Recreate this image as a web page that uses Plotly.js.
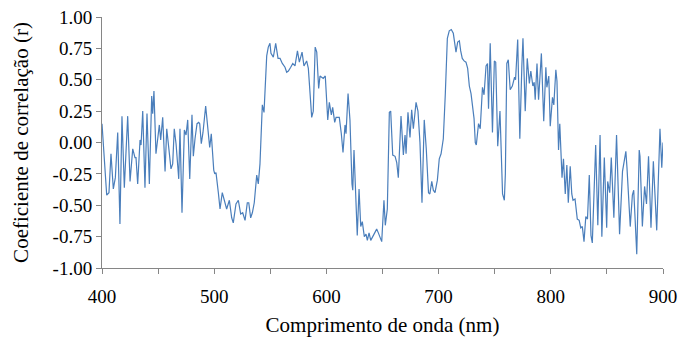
<!DOCTYPE html>
<html>
<head>
<meta charset="utf-8">
<script src="https://cdn.plot.ly/plotly-3.0.1.min.js"></script>
<style>html,body{margin:0;padding:0;background:#fff}#chart{width:683px;height:337px}</style>
</head>
<body>
<div id="chart"></div>
<script>
// Wavelength (nm)
const wavelength = [
400,404.2,406.2,408.0,410.1,411.9,414.0,416.0,417.8,419.9,422.9,425.0,427.4,429.4,430.3,431.8,433.9,434.8,436.3,438.3,
440.1,442.2,444.3,445.2,446.3,448.1,451.1,452.3,454.1,456.2,457.7,459.1,461.5,463.0,464.4,466.0,468.4,469.5,471.3,473.4,
474.9,476.4,478.2,480.2,481.4,482.9,484.7,486.2,487.1,488.5,490.0,492.4,494.5,496.0,497.4,499.6,500.5,501.6,503.7,505.2,
507.2,509.0,511.1,513.5,515.6,517.0,519.4,521.5,523.6,525.4,527.5,529.5,530.8,532.5,534.0,535.7,537.9,539.3,540.8,542.9,
544.4,546.8,548.2,549.7,550.6,552.7,554.8,556.9,558.7,560.7,563.1,564.6,566.1,568.2,570.0,572.0,574.2,575.9,578.3,580.0,
582.4,583.9,585.4,586.9,588.3,590.0,591.4,593.1,594.3,595.8,597.2,599.0,601.2,602.6,604.4,605.6,607.4,608.6,611.5,613.3,
614.8,616.6,617.5,619.3,621.0,622.8,623.5,624.6,626.1,627.0,627.5,629.1,630.6,632.0,633.8,635.3,636.5,638.0,639.5,641.3,
642.7,644.8,646.3,647.8,649.3,651.3,652.5,654.3,656.1,657.3,659.1,661.2,662.7,664.1,666.5,668.6,670.1,671.0,672.7,674.5,
676.0,677.5,679.9,681.6,683.4,685.2,687.2,689.0,691.0,692.2,693.9,695.3,696.8,698.9,700.6,702.2,704.2,706.0,707.8,709.5,
711.3,713.1,714.4,715.5,717.0,718.5,719.7,721.1,722.7,724.4,725.9,727.4,728.9,730.4,731.6,732.7,733.6,735.6,737.1,739.1,
740.5,742.3,743.6,744.5,746.0,748.0,749.7,750.9,752.7,754.7,757.0,758.6,759.5,760.8,762.1,763.8,765.7,767.7,768.6,770.5,
772.4,774.2,775.2,777.2,779.0,780.9,782.2,784.0,785.2,786.1,787.7,789.1,791.6,793.7,795.6,796.5,798.2,799.5,801.5,802.7,
804.5,805.5,806.9,808.0,810.0,811.3,812.9,814.3,815.6,817.3,818.7,819.8,821.6,823.6,825.3,826.7,828.1,829.6,831.2,832.7,
834.3,835.8,837.0,840.0,841.9,843.9,845.5,847.7,849.8,850.7,852.5,853.9,856.2,858.6,861.3,863.9,866.9,867.9,870.8,872.7,
873.9,875.2,876.6,878.8,879.5,881.6,883.6,885.3,887.1,889.3,891.4,894.4,897.3,898.9,900
];
// Correlation coefficient (r)
const correlation = [
0.15,-0.42,-0.40,-0.09,-0.37,-0.28,0.08,-0.65,0.21,-0.36,0.21,-0.31,-0.05,-0.12,-0.12,-0.33,0.02,-0.02,0.25,-0.36,
0.23,-0.33,0.37,0.23,0.41,-0.09,0.14,0.02,0.20,-0.23,0.11,-0.03,-0.21,-0.17,0.11,-0.01,-0.29,0.11,-0.56,0.10,
0.06,0.18,-0.29,0.22,-0.11,0.03,0.15,0.16,0.15,-0.01,0.08,0.29,0.06,-0.04,0.07,-0.22,-0.25,-0.24,-0.40,-0.53,
-0.40,-0.46,-0.53,-0.46,-0.60,-0.64,-0.49,-0.46,-0.57,-0.56,-0.62,-0.48,-0.48,-0.60,-0.56,-0.48,-0.26,-0.33,-0.17,0.30,
0.24,0.69,0.76,0.79,0.71,0.68,0.79,0.67,0.67,0.63,0.60,0.56,0.57,0.60,0.63,0.61,0.73,0.64,0.72,0.61,
0.65,0.59,0.36,0.20,0.25,0.76,0.72,0.43,0.53,0.52,0.51,0.53,0.18,0.32,0.22,0.28,0.16,0.20,0.20,0.07,
-0.08,0.14,0.07,0.39,0.18,-0.33,-0.38,-0.06,-0.40,-0.71,-0.74,-0.37,-0.67,-0.63,-0.75,-0.73,-0.78,-0.72,-0.78,-0.75,
-0.72,-0.69,-0.72,-0.75,-0.79,-0.46,-0.66,-0.53,0.24,0.25,-0.10,-0.11,-0.16,-0.28,0.21,-0.10,0.06,-0.09,0.24,0.04,
0.26,0.11,0.32,0.25,0.00,-0.48,0.18,-0.05,-0.40,-0.41,-0.31,-0.38,-0.40,-0.30,-0.13,-0.09,0.03,0.39,0.83,0.89,
0.90,0.87,0.76,0.72,0.80,0.81,0.73,0.67,0.65,0.64,0.59,0.45,0.39,0.28,0.19,0.00,-0.02,0.15,0.11,0.44,
0.38,0.61,0.63,0.27,0.79,0.08,0.65,0.64,-0.03,0.25,-0.41,-0.46,-0.25,0.63,0.66,0.42,0.45,0.52,0.50,0.82,
0.03,0.61,0.83,0.25,0.67,0.47,0.57,0.45,0.48,0.34,0.63,0.34,0.71,0.17,0.60,0.44,0.53,0.13,0.36,0.30,
0.58,0.49,-0.06,0.15,-0.28,-0.13,-0.41,-0.18,-0.48,-0.19,-0.41,-0.46,-0.45,-0.61,-0.62,-0.68,-0.67,-0.79,-0.59,-0.61,
-0.26,-0.74,-0.80,-0.02,-0.66,0.06,-0.75,-0.12,-0.68,-0.31,-0.40,-0.12,-0.60,0.06,-0.73,-0.23,-0.07,-0.20,-0.67,-0.42,
-0.38,-0.62,-0.89,-0.06,-0.11,-0.67,-0.35,-0.49,-0.11,-0.68,-0.15,-0.70,0.11,-0.20,0.00
];
const yTickVals = [-1,-0.75,-0.5,-0.25,0,0.25,0.5,0.75,1];
const yTickText = ["-1.00","-0.75","-0.50","-0.25","0.00","0.25","0.50","0.75","1.00"];
const xTickVals = [400,500,600,700,800,900];
const xTickText = ["400","500","600","700","800","900"];

const font = 'Liberation Serif, Times New Roman, serif';
const trace = {
  x: wavelength, y: correlation, type: 'scatter', mode: 'lines',
  line: {color: '#4a7ebb', width: 1.2}, hoverinfo: 'skip'
};
const layout = {
  width: 683, height: 337,
  margin: {l: 102, r: 20, t: 17, b: 69},
  paper_bgcolor: '#fff', plot_bgcolor: '#fff',
  showlegend: false,
  font: {family: font, color: '#000', size: 19},
  xaxis: {
    range: [400, 900], tickvals: xTickVals, ticktext: xTickText,
    ticks: 'outside', ticklen: 5, tickcolor: '#868686', tickwidth: 1,
    minor: {dtick: 50, tick0: 400, ticks: 'outside', ticklen: 5, tickcolor: '#868686', showgrid: false},
    showline: true, linecolor: '#868686', linewidth: 1,
    showgrid: false, zeroline: false, fixedrange: true, automargin: false,
    ticklabelstandoff: 6,
    tickfont: {family: font, size: 19, color: '#000'},
    title: {text: 'Comprimento de onda (nm)', font: {family: font, size: 21, color: '#000'}, standoff: 14}
  },
  yaxis: {
    range: [-1, 1], tickvals: yTickVals, ticktext: yTickText,
    ticks: 'outside', ticklen: 5, tickcolor: '#868686', tickwidth: 1,
    showline: true, linecolor: '#868686', linewidth: 1,
    showgrid: false, zeroline: false, fixedrange: true, automargin: false,
    tickfont: {family: font, size: 19, color: '#000'},
    title: {text: 'Coeficiente de correlação (r)', font: {family: font, size: 21, color: '#000'}, standoff: 18}
  }
};
Plotly.newPlot('chart', [trace], layout, {displayModeBar: false, staticPlot: true});
</script>
</body>
</html>
